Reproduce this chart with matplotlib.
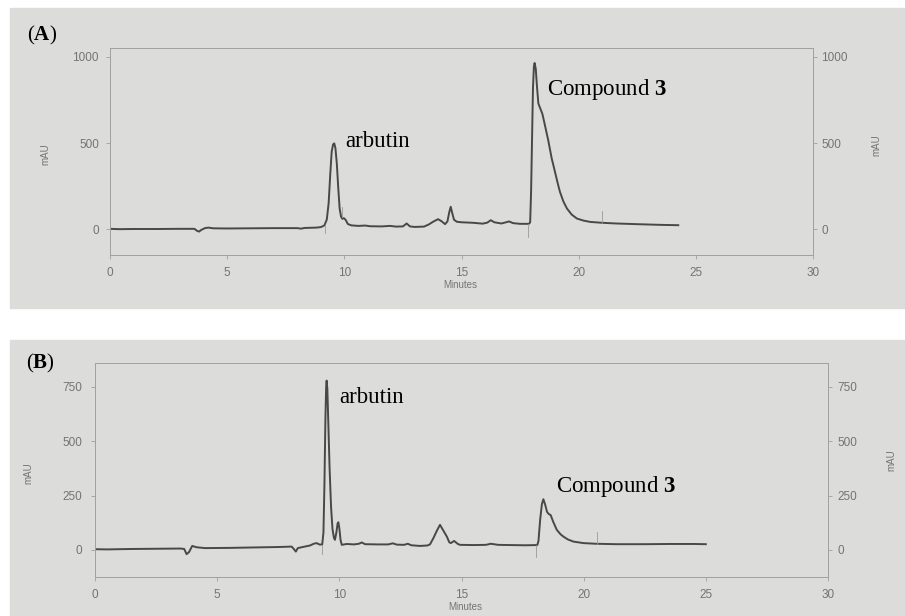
import matplotlib
matplotlib.use("Agg")
import matplotlib.pyplot as plt
from matplotlib.patches import Rectangle

plt.rcParams['font.family'] = ['Liberation Sans', 'DejaVu Sans']
plt.rcParams['mathtext.fontset'] = 'custom'
plt.rcParams['mathtext.rm'] = 'Liberation Serif'
plt.rcParams['mathtext.bf'] = 'Liberation Serif:bold'

# chromatogram (A), minutes / mAU
time_a = [0.0, 0.4, 1.0, 2.0, 3.0, 3.6, 3.72, 3.8, 3.9, 4.05, 4.2, 4.4, 5.0, 6.0, 7.0, 8.0,
          8.15, 8.3, 8.8, 9.0, 9.15, 9.25, 9.33, 9.40, 9.46, 9.52, 9.57, 9.62, 9.68, 9.74,
          9.80, 9.86, 9.92, 9.98, 10.05, 10.15, 10.3, 10.6, 10.9, 11.1, 11.6, 11.95, 12.2,
          12.5, 12.66, 12.8, 13.0, 13.4, 13.6, 13.8, 14.0, 14.15, 14.3, 14.4, 14.48, 14.54,
          14.6, 14.68, 14.8, 15.0, 15.5, 15.9, 16.1, 16.25, 16.4, 16.7, 16.9, 17.03, 17.2,
          17.5, 17.88, 17.93, 17.97, 18.01, 18.05, 18.09, 18.12, 18.17, 18.22, 18.28, 18.35,
          18.45, 18.55, 18.7, 18.85, 18.95, 19.1, 19.2, 19.35, 19.5, 19.7, 19.92, 20.2, 20.5,
          21.0, 21.6, 22.5, 23.5, 24.25]
signal_a = [2, 0, 1, 1, 2, 2, -10, -14, -4, 6, 9, 5, 4, 5, 6, 6,
            3, 7, 9, 12, 22, 55, 150, 320, 450, 492, 498, 470, 380, 240,
            120, 72, 60, 64, 55, 30, 22, 19, 21, 17, 16, 19, 15,
            16, 33, 16, 13, 15, 27, 44, 58, 46, 29, 45, 100, 130,
            96, 55, 43, 40, 37, 32, 38, 52, 40, 33, 40, 45, 35,
            31, 31, 40, 220, 520, 820, 945, 965, 930, 830, 730, 705,
            670, 610, 517, 410, 355, 270, 217, 160, 120, 85, 62, 50, 42,
            37, 33, 29, 25, 23]

# chromatogram (B)
time_b = [0.0, 0.5, 1.5, 2.5, 3.5, 3.65, 3.75, 3.85, 3.98, 4.15, 4.5, 5.5, 6.5, 7.5, 8.05,
          8.15, 8.22, 8.3, 8.5, 8.8, 8.95, 9.07, 9.2, 9.3, 9.35, 9.39, 9.43, 9.46, 9.48,
          9.51, 9.55, 9.6, 9.66, 9.72, 9.78, 9.82, 9.88, 9.93, 9.96, 10.0, 10.05, 10.1,
          10.3, 10.6, 10.8, 10.92, 11.05, 11.6, 12.0, 12.19, 12.35, 12.65, 12.8, 12.95,
          13.3, 13.6, 13.71, 13.85, 14.0, 14.12, 14.25, 14.4, 14.5, 14.56, 14.7, 14.85,
          14.94, 15.5, 16.0, 16.2, 16.5, 17.0, 17.6, 18.1, 18.15, 18.22, 18.29, 18.35,
          18.42, 18.5, 18.57, 18.65, 18.75, 18.9, 19.05, 19.17, 19.35, 19.58, 19.99, 20.5,
          21.35, 22.5, 23.5, 24.5, 25.0]
signal_b = [3, 2, 4, 5, 6, 4, -20, -10, 18, 12, 8, 9, 11, 13, 15,
            2, -8, 8, 13, 20, 28, 31, 24, 25, 80, 300, 600, 750, 779,
            740, 580, 380, 200, 95, 55, 46, 80, 122, 127, 100, 45, 23,
            27, 25, 28, 34, 26, 25, 25, 30, 24, 23, 28, 21,
            18, 20, 25, 54, 90, 115, 90, 61, 35, 31, 41, 27,
            23, 22, 23, 28, 23, 22, 21, 22, 40, 140, 210, 233,
            210, 175, 165, 160, 130, 92, 72, 61, 48, 38, 31, 28,
            26, 26, 27, 27, 26]

# integration marks: time, from, to
marks_a = [(9.17, 20, -25), (9.88, 72, 130), (17.85, 31, -47), (20.98, 37, 106)]
marks_b = [(9.28, 24, -20), (18.05, 22, -31), (20.55, 28, 84)]

xticks = [0, 5, 10, 15, 20, 25, 30]
yticks_a = [0, 500, 1000]
yticks_b = [0, 250, 500, 750]

W, H = 905, 616
fig = plt.figure(figsize=(W / 100, H / 100), dpi=100)
fig.patch.set_facecolor('white')

bg = '#dcdcdb'
fig.patches.append(Rectangle((10 / W, 1 - 308 / H), 895 / W, 300 / H,
                             transform=fig.transFigure, color=bg, zorder=-5))
fig.patches.append(Rectangle((10 / W, 0), 895 / W, 276 / H,
                             transform=fig.transFigure, color=bg, zorder=-5))

trace_col = '#484848'
axis_col = '#a0a0a0'
tick_col = '#747474'


def panel(rect, t, y, marks, ylim, yticks, lpad, rpad):
    ax = fig.add_axes(rect)
    ax.set_facecolor('none')
    ax.plot(t, y, color=trace_col, lw=1.4, solid_joinstyle='round')
    for tm, y0, y1 in marks:
        ax.plot([tm, tm], [y0, y1], color='#9a9a9a', lw=0.6)
    ax.set_xlim(0, 30)
    ax.set_ylim(*ylim)
    ax.set_xticks(xticks)
    ax.set_yticks(yticks)
    for s in ax.spines.values():
        s.set_color(axis_col)
        s.set_linewidth(0.7)
    ax.tick_params(axis='x', direction='out', length=3, width=0.6, color=axis_col,
                   labelcolor=tick_col, labelsize=8.5, pad=6)
    ax.tick_params(axis='y', direction='out', length=3, width=0.6, color=axis_col,
                   labelcolor=tick_col, labelsize=8.5, pad=lpad)
    tw = ax.twinx()
    tw.set_ylim(*ylim)
    tw.set_yticks(yticks)
    for s in tw.spines.values():
        s.set_visible(False)
    tw.tick_params(axis='y', direction='out', length=3, width=0.6, color=axis_col,
                   labelcolor=tick_col, labelsize=8.5, pad=rpad)
    return ax


ax_a = panel([110 / W, 1 - 255 / H, 703 / W, 207 / H], time_a, signal_a, marks_a,
             (-150, 1052), yticks_a, 5, 3)
ax_b = panel([95 / W, 1 - 577 / H, 733 / W, 214 / H], time_b, signal_b, marks_b,
             (-125, 860), yticks_b, 6, 4)

lab = dict(fontsize=16.5, color='black', va='baseline', ha='left',
           family='Liberation Serif')
ax_a.text(10.03, 477, 'arbutin', **lab)
ax_a.text(18.63, 779, r'Compound $\mathbf{3}$', **lab)
ax_b.text(9.99, 676, 'arbutin', **lab)
ax_b.text(18.87, 268, r'Compound $\mathbf{3}$', **lab)

fig.text(27 / W, 1 - 40 / H, r'($\mathbf{A}$)', fontsize=15, va='baseline',
         family='Liberation Serif')
fig.text(26 / W, 1 - 368 / H, r'($\mathbf{B}$)', fontsize=15, va='baseline',
         family='Liberation Serif')

small = dict(fontsize=7, color=tick_col, ha='center', va='center')
fig.text(45 / W, 1 - 154 / H, 'mAU', rotation=90, **small)
fig.text(876 / W, 1 - 145 / H, 'mAU', rotation=90, **small)
fig.text(28 / W, 1 - 473 / H, 'mAU', rotation=90, **small)
fig.text(891 / W, 1 - 460 / H, 'mAU', rotation=90, **small)
fig.text(460 / W, 1 - 285 / H, 'Minutes', **small)
fig.text(465 / W, 1 - 607 / H, 'Minutes', **small)

fig.savefig('out.png', dpi=100)
